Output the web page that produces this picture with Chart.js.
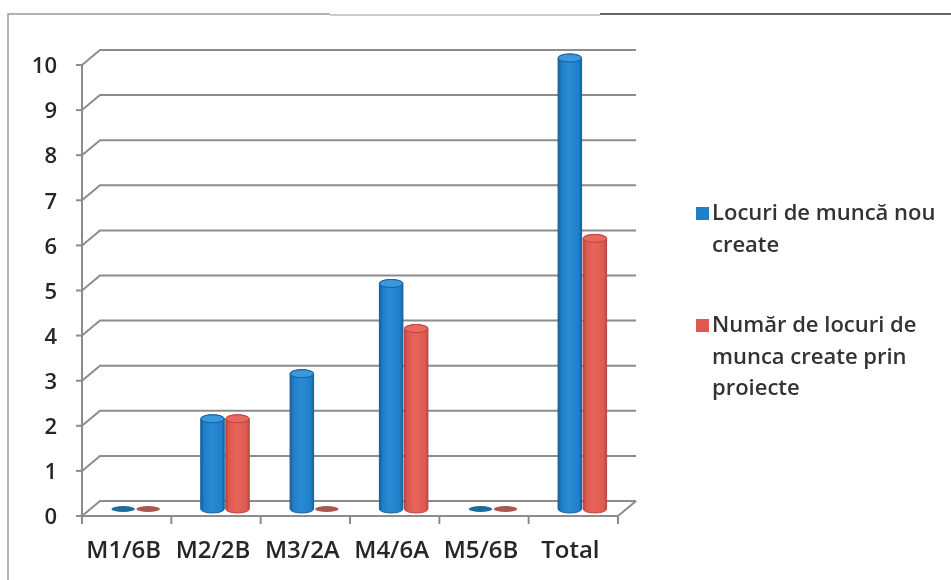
<!DOCTYPE html>
<html>
<head>
<meta charset="utf-8">
<script src="https://cdn.jsdelivr.net/npm/chart.js@4"></script>
<style>
  html, body { margin: 0; background: #fff; }
  #wrap { width: 951px; height: 580px; position: relative; }
</style>
</head>
<body>
<div id="wrap"><canvas id="jobsChart"></canvas></div>
<script>
// ----- data -----
const categories = ['M1/6B', 'M2/2B', 'M3/2A', 'M4/6A', 'M5/6B', 'Total'];
const locuriNoi = [0, 2, 3, 5, 0, 10];
const locuriProiecte = [0, 2, 0, 4, 0, 6];
const yTicks = [0, 1, 2, 3, 4, 5, 6, 7, 8, 9, 10];
const seriesNames = ['Locuri de muncă nou create', 'Număr de locuri de munca create prin proiecte'];
const legendLines = [['Locuri de muncă nou', 'create'], ['Număr de locuri de', 'munca create prin', 'proiecte']];

// 3D look: back wall offset and bar depth offset
const DX = 18, DY = 15;
const OX = 9, OY = -7;
const FONT = '"Open Sans", "Noto Sans", sans-serif';

const palette = [
  { edge: '#16609c', mid: '#2b8ad4', main: '#1f7fc8', top: '#3a98de', flat: '#1b6d9c' },
  { edge: '#b8463f', mid: '#e9655c', main: '#de5a51', top: '#e8685f', flat: '#a9574f' }
];

function cylinder(ctx, cx, top, base, w, col) {
  const rx = w / 2, ry = 4;
  const l = cx - rx, r = cx + rx;
  if (base - top < 1) {
    ctx.beginPath();
    ctx.ellipse(cx, base, rx, ry - 1, 0, 0, Math.PI * 2);
    ctx.fillStyle = col.flat;
    ctx.fill();
    return;
  }
  const g = ctx.createLinearGradient(l, 0, r, 0);
  g.addColorStop(0, col.edge);
  g.addColorStop(0.15, col.main);
  g.addColorStop(0.45, col.mid);
  g.addColorStop(0.88, col.main);
  g.addColorStop(1, col.edge);
  ctx.beginPath();
  ctx.moveTo(l, top);
  ctx.lineTo(l, base);
  ctx.ellipse(cx, base, rx, ry, 0, Math.PI, 0, true);
  ctx.lineTo(r, top);
  ctx.ellipse(cx, top, rx, ry, 0, 0, Math.PI, true);
  ctx.closePath();
  ctx.fillStyle = g;
  ctx.fill();
  ctx.strokeStyle = col.edge;
  ctx.lineWidth = 1;
  ctx.stroke();

  ctx.beginPath();
  ctx.ellipse(cx, top, rx, ry, 0, 0, Math.PI * 2);
  ctx.fillStyle = col.top;
  ctx.fill();
  ctx.stroke();
}

const frame3d = {
  id: 'frame3d',
  beforeDatasetsDraw(chart) {
    const { ctx, chartArea: a, scales: { x, y } } = chart;
    ctx.save();

    // scanned page frame
    ctx.lineWidth = 1.5;
    ctx.strokeStyle = '#9a9a9a';
    ctx.beginPath();
    ctx.moveTo(8, 580); ctx.lineTo(8, 14); ctx.lineTo(330, 14);
    ctx.stroke();
    ctx.strokeStyle = '#333';
    ctx.beginPath();
    ctx.moveTo(600, 14); ctx.lineTo(951, 14);
    ctx.stroke();
    ctx.strokeStyle = '#bbb';
    ctx.beginPath();
    ctx.moveTo(330, 15); ctx.lineTo(600, 15);
    ctx.stroke();

    // back wall gridlines
    ctx.strokeStyle = '#8c8c8c';
    ctx.lineWidth = 2;
    yTicks.forEach(v => {
      const py = y.getPixelForValue(v);
      ctx.beginPath();
      ctx.moveTo(a.left, py);
      ctx.lineTo(a.left + DX, py - DY);
      ctx.lineTo(a.right + DX, py - DY);
      ctx.stroke();
      // small tick on the front axis
      ctx.beginPath();
      ctx.moveTo(a.left - 6, py);
      ctx.lineTo(a.left, py);
      ctx.stroke();
    });

    // front vertical axis
    const y0 = y.getPixelForValue(0);
    ctx.beginPath();
    ctx.moveTo(a.left, y.getPixelForValue(yTicks[yTicks.length - 1]));
    ctx.lineTo(a.left, y0);
    ctx.stroke();

    // floor
    ctx.beginPath();
    ctx.moveTo(a.left, y0);
    ctx.lineTo(a.right, y0);
    ctx.lineTo(a.right + DX, y0 - DY);
    ctx.stroke();

    const step = x.getPixelForValue(1) - x.getPixelForValue(0);
    for (let i = 0; i <= categories.length; i++) {
      const px = x.getPixelForValue(0) - step / 2 + i * step;
      ctx.beginPath();
      ctx.moveTo(px, y0);
      ctx.lineTo(px, y0 + 8);
      ctx.stroke();
    }

    // tick labels
    ctx.fillStyle = '#262626';
    ctx.font = '600 22px ' + FONT;
    ctx.textAlign = 'right';
    ctx.textBaseline = 'middle';
    yTicks.forEach(v => {
      ctx.fillText(String(v), a.left - 25, y.getPixelForValue(v) + 2);
    });
    ctx.font = '600 24px ' + FONT;
    ctx.textAlign = 'center';
    categories.forEach((c, i) => {
      ctx.fillText(c, x.getPixelForValue(i) - 3, y0 + 35);
    });
    ctx.restore();
  },
  beforeDatasetDraw() {
    return false;
  },
  afterDatasetsDraw(chart) {
    const { ctx } = chart;
    ctx.save();
    const n = categories.length;
    for (let i = 0; i < n; i++) {
      chart.data.datasets.forEach((ds, d) => {
        const el = chart.getDatasetMeta(d).data[i];
        cylinder(ctx, el.x + OX, el.y + OY, el.base + OY, el.width, palette[d]);
      });
    }
    ctx.restore();
  },
  afterDraw(chart) {
    const { ctx } = chart;
    ctx.save();
    ctx.font = '600 22px ' + FONT;
    ctx.textAlign = 'left';
    ctx.textBaseline = 'middle';
    const starts = [214, 326];
    legendLines.forEach((lines, d) => {
      ctx.fillStyle = palette[d].main;
      ctx.fillRect(696, starts[d] - 7, 13, 13);
      ctx.fillStyle = '#333';
      lines.forEach((t, k) => ctx.fillText(t, 712, starts[d] + k * 31.5));
    });
    ctx.restore();
  }
};

new Chart(document.getElementById('jobsChart'), {
  type: 'bar',
  data: {
    labels: categories,
    datasets: [
      { label: seriesNames[0], data: locuriNoi, backgroundColor: palette[0].main },
      { label: seriesNames[1], data: locuriProiecte, backgroundColor: palette[1].main }
    ]
  },
  options: {
    responsive: true,
    maintainAspectRatio: false,
    animation: false,
    categoryPercentage: 0.56,
    barPercentage: 0.94,
    layout: { padding: { left: 82, right: 333, top: 65, bottom: 64 } },
    plugins: { legend: { display: false }, tooltip: { enabled: false } },
    scales: {
      x: { display: false },
      y: { display: false, min: 0, max: 10, ticks: { stepSize: 1 } }
    }
  },
  plugins: [frame3d]
});
</script>
</body>
</html>
